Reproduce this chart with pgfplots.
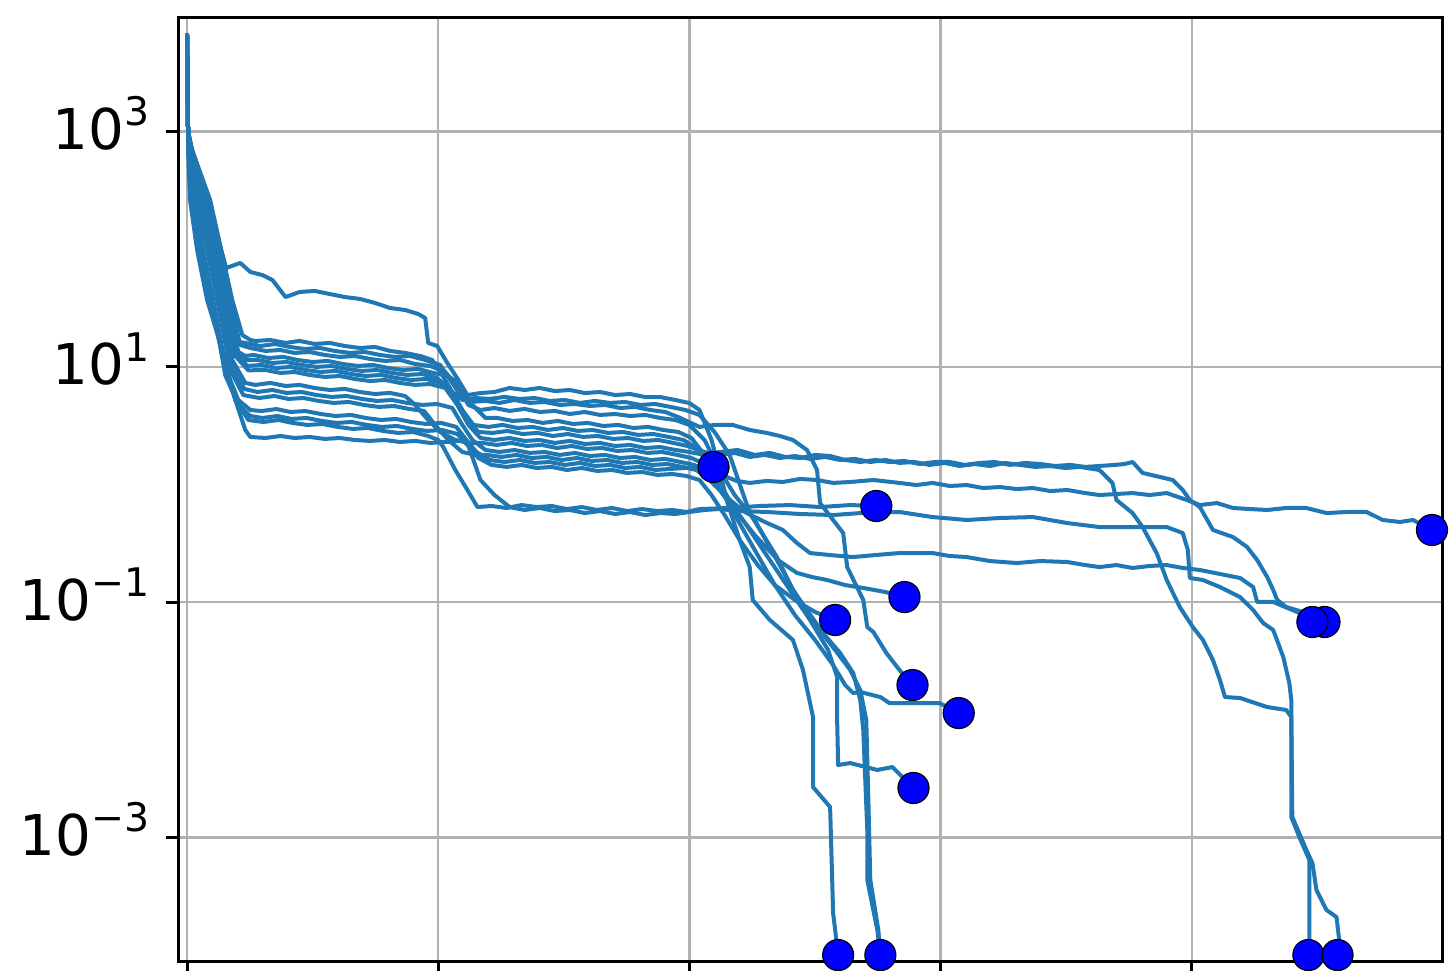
\documentclass[border=0pt]{standalone}
\usepackage{fontspec}
\setmainfont{DejaVu Sans}
\usepackage{pgfplots}
\pgfplotsset{compat=1.18}
\definecolor{mplblue}{HTML}{1F77B4}
\definecolor{mk}{HTML}{0000FF}
\newcommand{\tl}[1]{10\raisebox{0.42em}{\fontsize{11.2pt}{11.2pt}\selectfont #1}}
\tikzset{ln/.style={mplblue, line width=0.4mm, line join=round, line cap=round, no markers}}
\tikzset{mks/.style={only marks, mark=*, mark size=1.55mm, mark options={fill=mk, draw=black, line width=0.12mm}}}
\begin{document}
\begin{tikzpicture}
\begin{axis}[
  name=ax, scale only axis, width=126.4mm, height=94.4mm,
  xmin=-9, xmax=1249, ymin=-4.059, ymax=3.965,
  xtick={0,250,500,750,1000}, xticklabels={},
  ytick={-3,-1,1,3}, yticklabels={\tl{−3},\tl{−1},\tl{1},\tl{3}},
  yticklabel style={anchor=base east, inner sep=0pt, xshift=-1.6mm, yshift=-1.8mm, font=\fontsize{16pt}{16pt}\selectfont},
  grid=major, major grid style={line width=0.25mm, color=black!30},
  axis line style={line width=0.3mm, black},
  tick pos=left,
  tick align=outside, major tick length=1.2mm, tick style={line width=0.3mm, black},
  clip=false,
]
% c12 -> M1
\addplot[ln] coordinates {(0,3.82)(1,3.0)(2,2.843)(8,2.418)(16,1.993)(26,1.568)(39,0.973)(51,0.718)(63,0.633)(74,0.624)(89,0.641)(103,0.616)(118,0.624)(133,0.599)(148,0.582)(163,0.591)(178,0.565)(193,0.548)(208,0.557)(223,0.531)(238,0.514)(253,0.523)(268,0.489)(278,0.378)(288,0.276)(301,0.208)(316,0.191)(331,0.208)(346,0.183)(361,0.191)(376,0.166)(391,0.183)(406,0.157)(421,0.166)(436,0.14)(451,0.149)(466,0.123)(481,0.132)(496,0.14)(510,0.157)(524,0.149)};
% c15 -> M4
\addplot[ln] coordinates {(0,3.82)(1,3.0)(2,2.843)(7,2.418)(15,1.993)(25,1.568)(38,0.93)(51,0.676)(63,0.582)(75,0.565)(90,0.582)(104,0.557)(119,0.565)(134,0.54)(149,0.523)(164,0.531)(179,0.506)(194,0.489)(209,0.497)(224,0.472)(239,0.455)(254,0.463)(269,0.429)(279,0.336)(290,0.225)(303,0.166)(318,0.149)(333,0.166)(348,0.14)(363,0.149)(378,0.123)(393,0.14)(408,0.115)(423,0.123)(438,0.098)(453,0.106)(468,0.081)(483,0.089)(497,0.072)(510,0.038)(522,-0.09)(535,-0.26)(550,-0.472)(568,-0.685)(585,-0.855)(605,-0.982)(625,-1.084)(645,-1.152)};
\addplot[mks] coordinates {(524,0.149)(645,-1.152)};
% c1 -> M8
\addplot[ln] coordinates {(0,3.82)(1,3.0)(5,2.843)(23,2.418)(34,1.993)(39,1.84)(53,1.883)(63,1.806)(75,1.78)(85,1.738)(98,1.593)(112,1.636)(127,1.645)(142,1.619)(157,1.593)(172,1.577)(187,1.543)(202,1.5)(217,1.483)(230,1.449)(237,1.415)(240,1.203)(249,1.177)(259,1.033)(270,0.888)(279,0.76)(292,0.777)(306,0.786)(321,0.82)(336,0.803)(351,0.82)(366,0.794)(381,0.803)(396,0.777)(411,0.786)(426,0.76)(441,0.769)(456,0.743)(471,0.743)(486,0.718)(500,0.692)(510,0.633)(522,0.378)(530,0.123)(537,-0.132)(550,-0.472)(560,-0.702)(563,-0.982)(580,-1.152)(603,-1.322)(613,-1.577)(623,-1.977)(623,-2.572)(640,-2.742)(643,-3.643)(648,-4.0)};
% c2 -> M9
\addplot[ln] coordinates {(0,3.82)(1,3.0)(5,2.843)(22,2.418)(34,1.993)(45,1.568)(55,1.27)(63,1.228)(68,1.22)(83,1.228)(98,1.203)(112,1.22)(127,1.194)(142,1.203)(157,1.177)(172,1.16)(187,1.169)(202,1.135)(217,1.118)(232,1.092)(244,1.058)(254,0.93)(264,0.786)(274,0.718)(287,0.735)(301,0.727)(316,0.744)(331,0.727)(346,0.735)(361,0.71)(376,0.718)(391,0.693)(406,0.71)(421,0.693)(436,0.701)(451,0.676)(466,0.684)(481,0.659)(496,0.633)(510,0.591)(525,0.446)(540,0.251)(560,-0.243)(587,-0.617)(603,-0.897)(633,-1.263)(650,-1.433)(663,-1.603)(670,-1.832)(673,-2.087)(677,-2.937)(677,-3.362)(687,-3.787)(690,-4.0)};
% c3 -> M5
\addplot[ln] coordinates {(0,3.82)(1,3.0)(5,2.843)(21,2.418)(33,1.993)(43,1.568)(52,1.211)(58,1.203)(73,1.177)(88,1.194)(102,1.169)(117,1.152)(132,1.16)(147,1.135)(162,1.118)(177,1.126)(192,1.101)(207,1.084)(222,1.092)(237,1.058)(252,1.016)(262,0.888)(272,0.76)(282,0.701)(297,0.71)(311,0.693)(326,0.718)(341,0.693)(356,0.701)(371,0.676)(386,0.684)(401,0.667)(416,0.676)(431,0.65)(446,0.659)(461,0.633)(476,0.616)(491,0.565)(510,0.489)(525,0.506)(543,0.506)(560,0.463)(577,0.438)(590,0.412)(603,0.378)(617,0.293)(627,0.123)(630,-0.158)(643,-0.302)(653,-0.413)(657,-0.702)(673,-0.982)(677,-1.212)(683,-1.254)(696,-1.433)(709,-1.577)(722,-1.705)};
% c4 -> M9
\addplot[ln] coordinates {(0,3.82)(1,3.0)(4,2.843)(20,2.418)(31,1.993)(42,1.568)(53,1.186)(63,1.16)(78,1.135)(93,1.143)(107,1.118)(122,1.126)(137,1.101)(152,1.084)(167,1.092)(182,1.067)(197,1.05)(212,1.058)(227,1.024)(242,1.007)(257,0.956)(270,0.82)(280,0.676)(292,0.633)(306,0.65)(321,0.625)(336,0.642)(351,0.616)(366,0.625)(381,0.599)(396,0.616)(411,0.591)(426,0.599)(441,0.582)(456,0.591)(471,0.565)(486,0.548)(500,0.506)(515,0.378)(530,0.123)(545,-0.09)(565,-0.302)(587,-0.642)(605,-0.923)(628,-1.22)(645,-1.407)(660,-1.577)(670,-1.747)(676,-2.002)(678,-2.657)(680,-3.362)(688,-3.787)(690,-4.0)};
% c5 -> M7
\addplot[ln] coordinates {(0,3.82)(1,3.0)(4,2.843)(18,2.418)(29,1.993)(40,1.568)(51,1.126)(58,1.092)(66,1.101)(81,1.075)(96,1.084)(110,1.058)(125,1.041)(140,1.05)(155,1.024)(170,1.007)(185,1.016)(200,0.99)(215,0.973)(230,0.982)(245,0.948)(260,0.922)(272,0.846)(284,0.676)(297,0.565)(309,0.565)(324,0.54)(339,0.548)(354,0.523)(369,0.54)(384,0.514)(399,0.523)(414,0.497)(429,0.506)(444,0.48)(459,0.489)(474,0.463)(489,0.446)(502,0.395)(515,0.251)(528,0.038)(543,-0.175)(560,-0.387)(580,-0.642)(600,-0.897)(620,-1.152)(638,-1.407)(647,-1.637)(647,-2.002)(648,-2.385)(660,-2.368)(687,-2.427)(702,-2.402)(723,-2.58)};
% c6 -> M6
\addplot[ln] coordinates {(0,3.82)(1,3.0)(4,2.843)(17,2.418)(28,1.993)(38,1.568)(49,1.143)(58,1.058)(70,1.058)(85,1.033)(99,1.041)(114,1.016)(129,0.999)(144,1.007)(159,0.982)(174,0.965)(189,0.973)(204,0.948)(219,0.931)(234,0.939)(249,0.905)(264,0.786)(274,0.633)(285,0.506)(300,0.489)(314,0.506)(329,0.48)(344,0.489)(359,0.463)(374,0.48)(389,0.455)(404,0.463)(419,0.438)(434,0.446)(449,0.421)(464,0.429)(479,0.404)(494,0.378)(507,0.31)(520,0.166)(532,-0.047)(548,-0.302)(565,-0.557)(585,-0.855)(605,-1.11)(625,-1.322)(643,-1.535)(655,-1.705)(663,-1.773)(670,-1.764)(690,-1.807)(699,-1.858)(749,-1.858)(768,-1.943)};
% c7 -> M12
\addplot[ln] coordinates {(0,3.82)(1,3.0)(4,2.843)(16,2.418)(26,1.993)(37,1.568)(48,1.126)(60,1.007)(74,1.016)(89,0.99)(103,0.999)(118,0.973)(133,0.956)(148,0.965)(163,0.939)(178,0.922)(193,0.931)(208,0.905)(223,0.888)(238,0.897)(253,0.863)(267,0.735)(278,0.565)(290,0.446)(304,0.438)(319,0.455)(334,0.429)(349,0.438)(364,0.412)(379,0.429)(394,0.404)(409,0.412)(424,0.387)(439,0.395)(454,0.37)(469,0.378)(484,0.353)(498,0.327)(515,0.276)(530,0.251)(545,0.268)(560,0.234)(575,0.251)(590,0.225)(605,0.242)(620,0.217)(635,0.234)(650,0.208)(665,0.217)(680,0.191)(695,0.208)(709,0.183)(724,0.191)(739,0.166)(754,0.183)(769,0.157)(784,0.174)(799,0.157)(814,0.183)(829,0.166)(844,0.149)(859,0.157)(874,0.14)(889,0.149)(908,0.123)(921,0.013)(925,-0.132)(941,-0.243)(951,-0.362)(965,-0.583)(975,-0.812)(988,-1.042)(1001,-1.212)(1011,-1.322)(1021,-1.492)(1028,-1.662)(1033,-1.807)(1048,-1.815)(1075,-1.892)(1094,-1.917)(1099,-1.977)(1099,-2.827)(1107,-2.997)(1117,-3.192)(1117,-3.872)(1116,-4.0)};
% c8 -> M11
\addplot[ln] coordinates {(0,3.82)(1,3.0)(3,2.843)(15,2.418)(25,1.993)(36,1.568)(47,1.101)(61,0.97)(78,0.973)(93,0.948)(107,0.956)(122,0.931)(137,0.914)(152,0.922)(167,0.897)(182,0.879)(197,0.888)(212,0.863)(227,0.846)(242,0.854)(257,0.82)(269,0.676)(280,0.506)(292,0.395)(306,0.378)(321,0.395)(336,0.37)(351,0.378)(366,0.353)(381,0.37)(396,0.344)(411,0.353)(426,0.327)(441,0.336)(456,0.31)(471,0.318)(486,0.293)(500,0.276)(515,0.251)(530,0.276)(548,0.293)(565,0.251)(580,0.268)(595,0.234)(610,0.225)(625,0.251)(640,0.242)(655,0.208)(670,0.191)(685,0.208)(699,0.191)(714,0.2)(729,0.174)(744,0.191)(759,0.191)(774,0.166)(789,0.183)(804,0.191)(819,0.166)(834,0.183)(849,0.174)(864,0.157)(879,0.166)(894,0.149)(908,0.157)(923,0.166)(933,0.174)(941,0.191)(951,0.098)(968,0.064)(981,0.038)(991,-0.047)(998,-0.132)(1008,-0.192)(1021,-0.387)(1041,-0.447)(1055,-0.532)(1065,-0.642)(1075,-0.787)(1081,-0.897)(1085,-0.982)(1094,-1.042)(1114,-1.093)(1132,-1.169)};
% c9 -> M14
\addplot[ln] coordinates {(0,3.82)(1,3.0)(3,2.843)(13,2.418)(23,1.993)(33,1.568)(45,1.058)(58,0.863)(68,0.846)(83,0.863)(98,0.837)(112,0.846)(127,0.82)(142,0.803)(157,0.812)(172,0.786)(187,0.769)(202,0.778)(217,0.752)(227,0.676)(240,0.548)(252,0.446)(267,0.378)(282,0.353)(294,0.353)(308,0.336)(323,0.353)(338,0.327)(353,0.336)(368,0.31)(383,0.327)(398,0.302)(413,0.31)(428,0.285)(443,0.293)(458,0.268)(473,0.276)(488,0.251)(502,0.225)(517,0.166)(532,0.081)(547,0.03)(560,0.013)(577,0.03)(593,0.021)(610,0.047)(627,0.038)(643,0.013)(660,0.021)(683,0.038)(709,0.013)(726,-0.005)(742,0.013)(759,-0.013)(776,-0.005)(792,-0.03)(809,-0.022)(826,-0.039)(842,-0.03)(859,-0.056)(876,-0.047)(894,-0.073)(908,-0.09)(925,-0.081)(941,-0.073)(958,-0.09)(975,-0.073)(995,-0.132)(1008,-0.175)(1025,-0.158)(1041,-0.2)(1058,-0.209)(1075,-0.217)(1094,-0.2)(1114,-0.2)(1134,-0.243)(1154,-0.234)(1174,-0.234)(1190,-0.302)(1207,-0.319)(1220,-0.302)(1239,-0.387)};
% c10 -> M3
\addplot[ln] coordinates {(0,3.82)(1,3.0)(3,2.843)(12,2.418)(21,1.993)(32,1.568)(44,1.016)(57,0.812)(70,0.786)(85,0.803)(99,0.778)(114,0.786)(129,0.76)(144,0.744)(159,0.752)(174,0.727)(189,0.71)(204,0.718)(219,0.693)(234,0.676)(249,0.684)(264,0.65)(274,0.506)(284,0.378)(297,0.293)(311,0.276)(326,0.293)(341,0.268)(356,0.276)(371,0.251)(386,0.268)(401,0.242)(416,0.251)(431,0.225)(446,0.234)(461,0.208)(476,0.217)(491,0.191)(505,0.166)(518,0.081)(530,-0.047)(545,-0.217)(565,-0.43)(588,-0.642)(607,-0.752)(622,-0.787)(637,-0.812)(655,-0.855)(673,-0.88)(695,-0.914)(714,-0.957)};
% c11 -> M10
\addplot[ln] coordinates {(0,3.82)(1,3.0)(3,2.843)(11,2.418)(20,1.993)(30,1.568)(43,0.973)(56,0.76)(72,0.735)(87,0.752)(101,0.727)(116,0.735)(131,0.71)(146,0.693)(161,0.701)(176,0.676)(191,0.659)(206,0.667)(221,0.642)(236,0.625)(247,0.505)(260,0.378)(274,0.276)(287,0.251)(298,0.251)(313,0.234)(328,0.251)(343,0.225)(358,0.234)(373,0.208)(388,0.225)(403,0.2)(418,0.208)(433,0.183)(448,0.191)(463,0.166)(478,0.174)(493,0.149)(507,0.123)(522,0.021)(538,-0.115)(555,-0.234)(575,-0.319)(593,-0.387)(607,-0.498)(620,-0.583)(640,-0.6)(663,-0.617)(685,-0.6)(709,-0.583)(742,-0.583)(759,-0.608)(776,-0.617)(799,-0.651)(826,-0.668)(849,-0.651)(876,-0.659)(894,-0.685)(908,-0.702)(925,-0.685)(941,-0.71)(958,-0.693)(975,-0.685)(991,-0.71)(1008,-0.727)(1028,-0.761)(1048,-0.795)(1061,-0.872)(1065,-0.999)(1081,-0.999)(1100,-1.067)(1117,-1.127)(1120,-1.169)};
% c13 -> M2
\addplot[ln] coordinates {(0,3.82)(1,3.0)(2,2.843)(5,2.418)(13,1.993)(23,1.568)(36,1.058)(48,0.718)(61,0.548)(76,0.531)(91,0.548)(105,0.523)(120,0.506)(135,0.514)(150,0.489)(165,0.472)(180,0.48)(195,0.455)(210,0.438)(225,0.446)(240,0.412)(250,0.378)(255,0.318)(267,0.123)(279,-0.047)(289,-0.192)(303,-0.183)(318,-0.2)(333,-0.175)(348,-0.192)(363,-0.183)(378,-0.209)(393,-0.192)(408,-0.217)(423,-0.2)(438,-0.226)(453,-0.209)(468,-0.226)(483,-0.217)(497,-0.234)(510,-0.209)(540,-0.2)(570,-0.183)(600,-0.175)(630,-0.192)(660,-0.175)(686,-0.183)};
% c14 -> M13
\addplot[ln] coordinates {(0,3.82)(1,3.0)(1,2.843)(3,2.418)(10,1.993)(20,1.568)(35,1.143)(48,0.718)(58,0.463)(63,0.404)(78,0.395)(93,0.412)(107,0.395)(122,0.404)(137,0.387)(152,0.395)(167,0.378)(182,0.37)(197,0.378)(212,0.361)(227,0.37)(242,0.353)(257,0.361)(272,0.37)(279,0.353)(292,0.038)(306,-0.09)(321,-0.192)(336,-0.217)(351,-0.2)(366,-0.226)(381,-0.217)(396,-0.243)(411,-0.226)(426,-0.251)(441,-0.234)(456,-0.26)(471,-0.243)(486,-0.251)(500,-0.234)(515,-0.217)(530,-0.209)(550,-0.226)(577,-0.234)(610,-0.251)(643,-0.26)(670,-0.243)(709,-0.234)(742,-0.277)(776,-0.302)(809,-0.285)(842,-0.277)(876,-0.328)(908,-0.362)(941,-0.362)(975,-0.362)(991,-0.413)(996,-0.557)(998,-0.795)(1011,-0.812)(1028,-0.872)(1048,-0.957)(1061,-1.067)(1071,-1.178)(1081,-1.237)(1091,-1.467)(1097,-1.688)(1099,-1.832)(1099,-1.977)(1100,-2.827)(1114,-3.107)(1120,-3.218)(1124,-3.447)(1134,-3.617)(1144,-3.677)(1147,-3.898)(1145,-4.0)};
\addplot[mks] coordinates {(648,-4.0)(690,-4.0)(722,-1.705)(714,-0.957)(723,-2.58)(768,-1.943)(1116,-4.0)(1132,-1.169)(1239,-0.387)(1120,-1.169)(686,-0.183)(1145,-4.0)};
\draw[line width=0.3mm] (rel axis cs:0,0) rectangle (rel axis cs:1,1);
\end{axis}
\pgfresetboundingbox
\path[use as bounding box] ([xshift=-17.8mm,yshift=-0.9mm]ax.south west) rectangle ([xshift=0.8mm,yshift=1.8mm]ax.north east);
\end{tikzpicture}
\end{document}
